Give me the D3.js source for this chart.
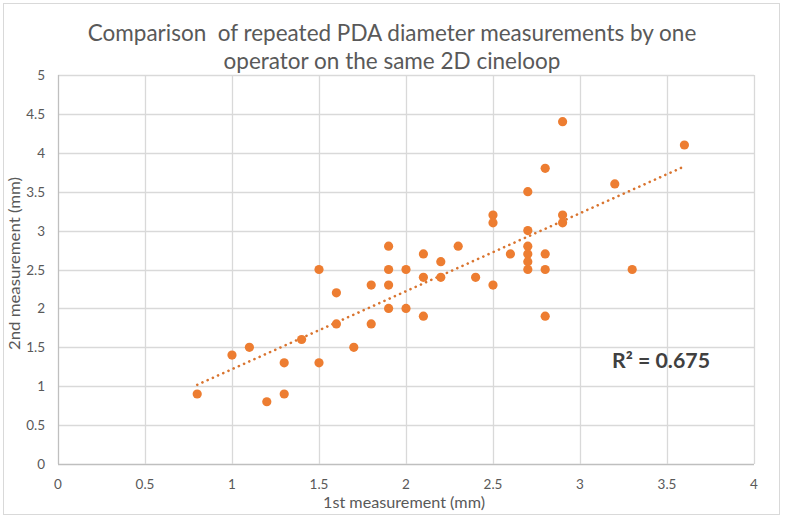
<!DOCTYPE html>
<html><head><meta charset="utf-8">
<script src="https://cdn.jsdelivr.net/npm/d3@7"></script>
<style>body{margin:0;background:#fff}svg{display:block}text{font-family:Lato,"Open Sans",sans-serif;white-space:pre}</style>
</head><body><svg id="c" width="785" height="518"></svg>
<script>
const firstMeasurement = [0.8,1.0,1.1,1.2,1.3,1.3,1.4,1.5,1.5,1.6,1.6,1.7,1.8,1.8,1.9,1.9,1.9,1.9,2.0,2.0,2.1,2.1,2.1,2.2,2.2,2.3,2.4,2.5,2.5,2.5,2.6,2.7,2.7,2.7,2.7,2.7,2.7,2.8,2.8,2.8,2.8,2.9,2.9,2.9,3.2,3.3,3.6];
const secondMeasurement = [0.9,1.4,1.5,0.8,0.9,1.3,1.6,1.3,2.5,2.2,1.8,1.5,2.3,1.8,2.8,2.5,2.3,2.0,2.5,2.0,2.7,2.4,1.9,2.6,2.4,2.8,2.4,3.2,3.1,2.3,2.7,3.5,3.0,2.8,2.7,2.6,2.5,3.8,2.7,2.5,1.9,4.4,3.2,3.1,3.6,2.5,4.1];
const xTicks = [0,0.5,1,1.5,2,2.5,3,3.5,4];
const yTicks = [0,0.5,1,1.5,2,2.5,3,3.5,4,4.5,5];
const titleLines = ["Comparison  of repeated PDA diameter measurements by one","operator on the same 2D cineloop"];
const xTitle = "1st measurement (mm)";
const yTitle = "2nd measurement (mm)";
const rSquaredLabel = "R² = 0.675";

const svg = d3.select("#c");
svg.append("rect").attr("x",3.5).attr("y",3.5).attr("width",776).attr("height",511)
  .attr("fill","#fff").attr("stroke","#d9d9d9");

const x = d3.scaleLinear().domain([0,4]).range([58,754]);
const y = d3.scaleLinear().domain([0,5]).range([464,75]);

// grid
svg.append("g").selectAll("line").data(yTicks).join("line")
  .attr("x1",x(0)).attr("x2",x(4)).attr("y1",d=>Math.round(y(d))+0.5).attr("y2",d=>Math.round(y(d))+0.5)
  .attr("stroke",d=>d===0?"#bfbfbf":"#d9d9d9").attr("stroke-width",1.3);
svg.append("g").selectAll("line").data(xTicks).join("line")
  .attr("y1",y(0)).attr("y2",y(5)).attr("x1",d=>Math.round(x(d))+0.5).attr("x2",d=>Math.round(x(d))+0.5)
  .attr("stroke",d=>d===0?"#bfbfbf":"#d9d9d9").attr("stroke-width",1.3);

// tick labels
svg.append("g").selectAll("text").data(yTicks).join("text")
  .attr("x",45).attr("y",d=>y(d)+5).attr("text-anchor","end")
  .attr("font-size",13.5).attr("fill","#595959").text(d=>d);
svg.append("g").selectAll("text").data(xTicks).join("text")
  .attr("x",d=>x(d)).attr("y",489).attr("text-anchor","middle")
  .attr("font-size",13.5).attr("fill","#595959").text(d=>d);

// axis titles
svg.append("text").attr("x",323).attr("y",508)
  .attr("font-size",15).attr("textLength",162).attr("lengthAdjust","spacingAndGlyphs")
  .attr("fill","#595959").text(xTitle);
svg.append("text").attr("transform","translate(20,350) rotate(-90)")
  .attr("font-size",15).attr("textLength",173).attr("lengthAdjust","spacingAndGlyphs")
  .attr("fill","#595959").text(yTitle);

// title
svg.append("g").selectAll("text").data(titleLines).join("text")
  .attr("x",392).attr("y",(d,i)=>41+i*28).attr("text-anchor","middle")
  .attr("font-size",22.5).attr("fill","#595959").text(d=>d);

// trendline (least squares)
const n = firstMeasurement.length;
const mx = d3.mean(firstMeasurement), my = d3.mean(secondMeasurement);
let sxy=0,sxx=0;
for(let i=0;i<n;i++){sxy+=(firstMeasurement[i]-mx)*(secondMeasurement[i]-my);sxx+=(firstMeasurement[i]-mx)**2;}
const slope = sxy/sxx, intercept = my - slope*mx;
const ext = d3.extent(firstMeasurement);
svg.append("line")
  .attr("x1",x(ext[0])).attr("y1",y(intercept+slope*ext[0]))
  .attr("x2",x(ext[1])).attr("y2",y(intercept+slope*ext[1]))
  .attr("stroke","#d9742f").attr("stroke-width",2.6).attr("stroke-dasharray","0.1,5.6").attr("stroke-linecap","round");

// points
svg.append("g").selectAll("circle").data(firstMeasurement).join("circle")
  .attr("cx",(d)=>x(d)).attr("cy",(d,i)=>y(secondMeasurement[i])).attr("r",4.6)
  .attr("fill","#ED7D31");

svg.append("text").attr("x",612).attr("y",368).attr("font-size",20).attr("font-weight","bold")
  .attr("textLength",98).attr("lengthAdjust","spacingAndGlyphs")
  .attr("fill","#404040").text(rSquaredLabel);
</script></body></html>
